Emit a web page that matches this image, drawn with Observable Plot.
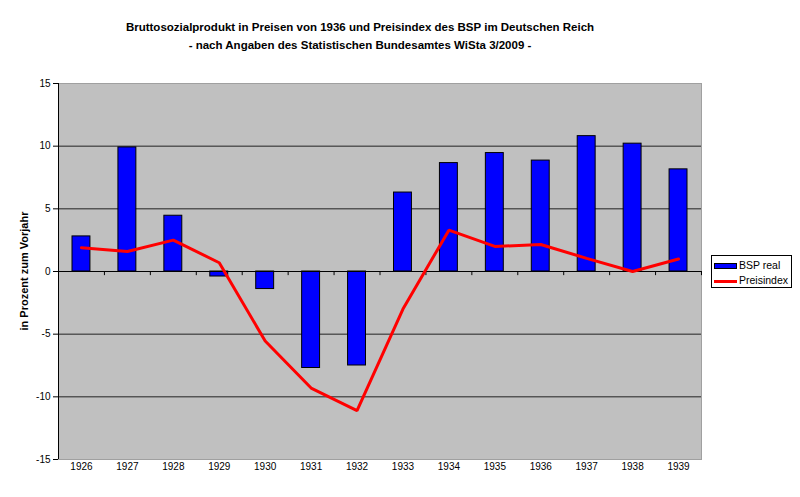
<!DOCTYPE html>
<html>
<head>
<meta charset="utf-8">
<script src="https://cdn.jsdelivr.net/npm/d3@7"></script>
<script src="https://cdn.jsdelivr.net/npm/@observablehq/plot@0.6"></script>
<style>
  html, body { margin: 0; padding: 0; background: #fff; }
  #wrap { position: relative; width: 800px; height: 497px; font-family: "Liberation Sans", Arial, sans-serif; color: #000; }
  #title { width: 720px; height: 44px; padding-top: 18px; text-align: center; font-weight: bold; font-size: 11.5px; line-height: 18px; }
  #ylabel { position: absolute; left: 24px; top: 271px; transform: translate(-50%, -50%) rotate(-90deg); white-space: nowrap; font-weight: bold; font-size: 11px; }
  #legend { position: absolute; left: 711px; top: 255px; width: 79px; height: 31px; border: 1px solid #000; background: #fff; font-size: 10.5px; }
  .item { position: absolute; left: 2px; height: 14px; line-height: 14px; white-space: nowrap; }
  .sw { display: inline-block; width: 23px; vertical-align: middle; margin-right: 2px; box-sizing: border-box; }
  svg { display: block; }
</style>
</head>
<body>
<div id="wrap">
  <div id="title"></div>
  <div id="ylabel"></div>
  <div id="chart"></div>
  <div id="legend"></div>
</div>
<script>
const titleLines = [
  "Bruttosozialprodukt in Preisen von 1936 und Preisindex des BSP im Deutschen Reich",
  "- nach Angaben des Statistischen Bundesamtes WiSta 3/2009 -"
];
const yAxisLabel = "in Prozent zum Vorjahr";
const years = [1926, 1927, 1928, 1929, 1930, 1931, 1932, 1933, 1934, 1935, 1936, 1937, 1938, 1939];
const bspReal = [2.8, 9.9, 4.45, -0.4, -1.4, -7.7, -7.5, 6.3, 8.65, 9.45, 8.85, 10.8, 10.2, 8.15];
const preisindex = [1.9, 1.6, 2.5, 0.7, -5.55, -9.3, -11.1, -3.0, 3.3, 2.0, 2.15, 1.05, 0.0, 1.0];
const yTicks = [-15, -10, -5, 0, 5, 10, 15];
const gridValues = [-10, -5, 5, 10];
const seriesNames = ["BSP real", "Preisindex"];

const data = years.map((year, i) => ({year, bsp: bspReal[i], preis: preisindex[i]}));

document.getElementById("title").innerHTML = titleLines.join("<br>");
document.getElementById("ylabel").textContent = yAxisLabel;

const W = 800, H = 435;
const mL = 58, mR = 99, mT = 21, mB = 38;
const step = (W - mL - mR) / years.length;

const chart = Plot.plot({
  width: W,
  height: H,
  marginLeft: mL,
  marginRight: mR,
  marginTop: mT,
  marginBottom: mB,
  style: {fontFamily: "'Liberation Sans', Arial, sans-serif", fontSize: "10px", color: "#000", background: "transparent"},
  x: {type: "band", domain: years, padding: 0, round: false, tickSize: 0, tickPadding: 3, label: null, tickFormat: d => String(d)},
  y: {domain: [-15, 15], ticks: yTicks, tickSize: 5, tickPadding: 3, label: null, tickFormat: d => String(d)},
  marks: [
    Plot.frame({fill: "#c0c0c0", stroke: "#a0a0a0"}),
    Plot.ruleY(gridValues, {stroke: "#222", strokeWidth: 1}),
    Plot.barY(data, {x: "year", y: "bsp", fill: "#0000ff", stroke: "#000", strokeWidth: 1, insetLeft: 14, insetRight: 14}),
    Plot.ruleY([0], {stroke: "#000", strokeWidth: 1}),
    Plot.ruleX(years, {x: d => d, y1: 0, y2: -0.33, dx: -step / 2, stroke: "#000"}),
    Plot.ruleX([years[years.length - 1]], {x: d => d, y1: 0, y2: -0.33, dx: step / 2, stroke: "#000"}),
    Plot.ruleX([years[0]], {x: d => d, y1: -15, y2: 15, dx: -step / 2, stroke: "#000"}),
    Plot.lineY(data, {x: "year", y: "preis", stroke: "#ff0000", strokeWidth: 3, strokeLinejoin: "miter"})
  ]
});
document.getElementById("chart").appendChild(chart);

const legend = document.getElementById("legend");
legend.innerHTML =
  `<div class="item" style="top:2px"><span class="sw" style="height:6px;background:#0000ff;border:1px solid #000"></span>${seriesNames[0]}</div>` +
  `<div class="item" style="top:17px"><span class="sw" style="height:3px;background:#ff0000"></span>${seriesNames[1]}</div>`;
</script>
</body>
</html>
